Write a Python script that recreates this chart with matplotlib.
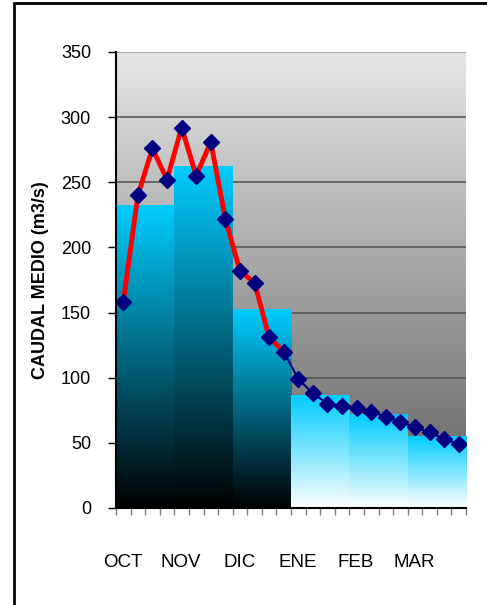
import numpy as np
import matplotlib
matplotlib.use("Agg")
import matplotlib.pyplot as plt
from matplotlib.patches import Rectangle
from matplotlib.colors import LinearSegmentedColormap

plt.rcParams['font.family'] = ['Liberation Sans', 'DejaVu Sans']

# ---- data ----
months = ["OCT", "NOV", "DIC", "ENE", "FEB", "MAR"]
monthly_mean = [232, 262, 152, 86, 72, 55]
weekly_flow = [158, 240, 276, 252, 292, 255, 281, 222,
               182, 173, 131, 120, 99, 88, 80, 78,
               77, 74, 70, 66, 62, 58, 53, 49]
weeks_per_month = 4
y_ticks = [0, 50, 100, 150, 200, 250, 300, 350]
y_label = "CAUDAL MEDIO (m3/s)"

fig = plt.figure(figsize=(4.87, 6.05), dpi=100)
ax = fig.add_axes([116/487, 97/605, 350/487, 456/605])

n_weeks = len(weekly_flow)

# background gradient
bg = LinearSegmentedColormap.from_list("bg", ["#606060", "#e6e6e6"])
grad = np.linspace(0, 1, 256).reshape(-1, 1)
ax.imshow(grad, cmap=bg, origin="lower", aspect="auto",
          extent=[0, 1, 0, 1], transform=ax.transAxes, zorder=0)

# gridlines
for v in y_ticks[1:]:
    ax.axhline(v, color="#9a9a9a" if v == 350 else "#505050", lw=1.1, zorder=1)

# bars
x_month = [i * weeks_per_month for i in range(len(months))]
bars = ax.bar(x_month, monthly_mean, width=weeks_per_month, align="edge",
              color="none", edgecolor="none", zorder=2)
dark_cmap = LinearSegmentedColormap.from_list("dk", ["#000000", "#00ccff"])
light_cmap = LinearSegmentedColormap.from_list("lt", ["#ffffff", "#00ccff"])
for i, b in enumerate(bars):
    cm = dark_cmap if i < 3 else light_cmap
    x0, w, h = b.get_x(), b.get_width(), b.get_height()
    ax.imshow(grad, cmap=cm, origin="lower", aspect="auto",
              extent=[x0, x0 + w, 0, h], zorder=2.1)
ax.set_xlim(0, n_weeks)
ax.set_ylim(0, 350)

# weekly line
xw = np.arange(n_weeks) + 0.5
split = 3 * weeks_per_month
ax.plot(xw[:split], weekly_flow[:split], color="#ff0000", lw=3.5, zorder=3,
        solid_capstyle="round")
ax.plot(xw[split - 1:], weekly_flow[split - 1:], color="#000080", lw=1.5, zorder=3)
ax.plot(xw, weekly_flow, ls="none", marker="D", ms=8, color="#000080",
        markeredgecolor="#000080", zorder=4)

# axes styling
for s in ["top", "right"]:
    ax.spines[s].set_visible(False)
ax.spines["left"].set_linewidth(1.5)
ax.spines["bottom"].set_linewidth(1.5)
ax.spines["left"].set_zorder(5)
ax.spines["bottom"].set_zorder(5)
ax.set_yticks(y_ticks)
ax.tick_params(axis="y", direction="out", length=6, width=1, labelsize=13, pad=12)
ax.set_xticks(np.arange(0, n_weeks + 1))
ax.set_xticklabels([])
ax.tick_params(axis="x", direction="out", length=5, width=1, color="#808080")

ax.set_ylabel(y_label, fontsize=13, fontweight="bold")
ax.yaxis.label.set_va("center")
ax.yaxis.set_label_coords(-0.217, 0.5)

# month labels
for i, m in enumerate(months):
    ax.text(i * weeks_per_month + 0.46, -42, m, ha="center", va="center",
            fontsize=13.5, transform=ax.transData, clip_on=False)

# outer frame
fig.patches.append(Rectangle((14/487, -0.1), 1.2, 1 - 3/605 + 0.1,
                             transform=fig.transFigure, fill=False,
                             edgecolor="black", lw=2))

fig.savefig("out.png", dpi=100)
